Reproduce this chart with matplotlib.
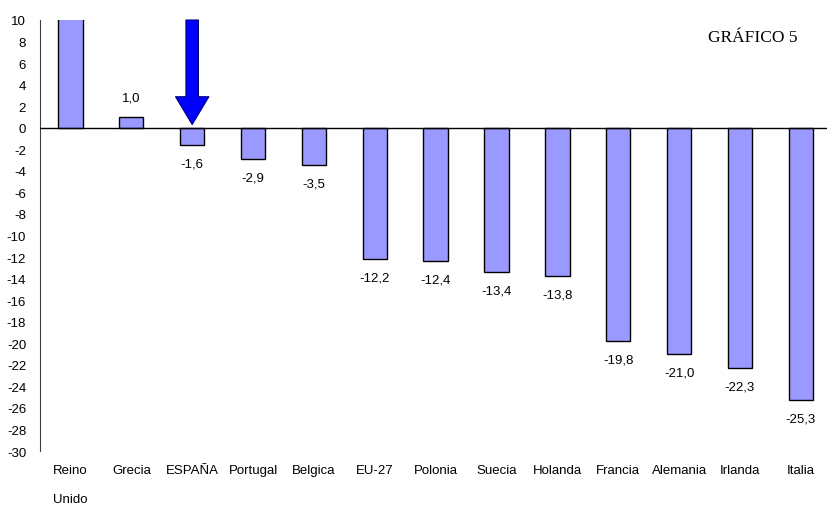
import numpy as np
import matplotlib.pyplot as plt

plt.rcParams['font.family'] = ['Liberation Sans', 'DejaVu Sans']

paises = ['Reino\nUnido', 'Grecia', 'ESPAÑA', 'Portugal', 'Belgica', 'EU-27', 'Polonia',
          'Suecia', 'Holanda', 'Francia', 'Alemania', 'Irlanda', 'Italia']
valores = [12.0, 1.0, -1.6, -2.9, -3.5, -12.2, -12.4, -13.4, -13.8, -19.8, -21.0, -22.3, -25.3]
etiquetas = [None, '1,0', '-1,6', '-2,9', '-3,5', '-12,2', '-12,4', '-13,4', '-13,8',
             '-19,8', '-21,0', '-22,3', '-25,3']
yticks = list(range(-30, 11, 2))

fig = plt.figure(figsize=(8.27, 5.06), dpi=100)
ax = fig.add_axes([0.0484, 0.1067, 0.9516, 0.8518])

x = np.arange(len(paises))
ax.bar(x, valores, width=0.4, color='#9999FF', edgecolor='black', linewidth=1, zorder=2)

for xi, v, lab in zip(x, valores, etiquetas):
    if lab is None:
        continue
    off = 14 if v > 0 else -13
    ax.annotate(lab, (xi, v), xytext=(0, off), textcoords='offset points',
                ha='center', va='center', fontsize=9.5)

ax.axhline(0, color='black', linewidth=1, zorder=3)

# flecha sobre España
ax.annotate('', xy=(2, 0.3), xytext=(2, 10),
            arrowprops=dict(facecolor='#0000FF', edgecolor='#000080', linewidth=0.8,
                            width=9, headwidth=24, headlength=20),
            annotation_clip=False, zorder=4)

fig.text(0.964, 0.925, 'GRÁFICO 5', ha='right', va='center',
         fontsize=12.5, family='Liberation Serif')

ax.set_ylim(-30, 10)
ax.set_xlim(-0.5, 12.43)
ax.set_yticks(yticks)
ax.set_yticklabels([str(t) for t in yticks], fontsize=9.5)
ax.set_xticks(x)
ax.set_xticklabels(paises, fontsize=9.5, linespacing=2.9)
ax.tick_params(axis='both', length=0)
ax.tick_params(axis='y', pad=10)
ax.tick_params(axis='x', pad=9)

for s in ['top', 'right', 'bottom']:
    ax.spines[s].set_visible(False)
ax.spines['left'].set_color('#404040')

fig.savefig('out.png', dpi=100)
